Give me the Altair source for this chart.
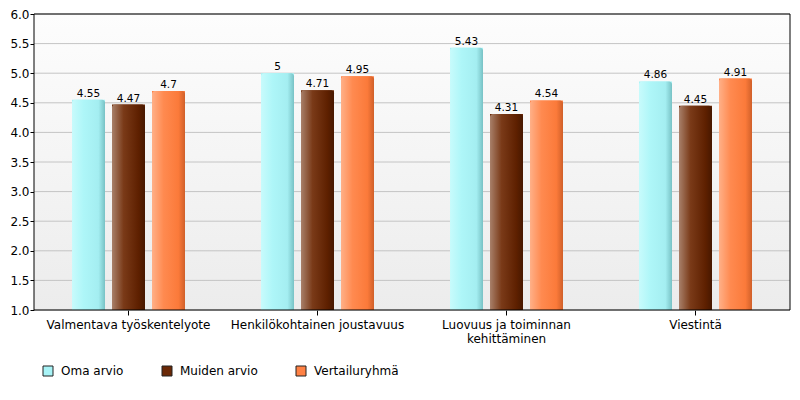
import altair as alt
import pandas as pd

categories = [
    "Valmentava työskentelyote",
    "Henkilökohtainen joustavuus",
    "Luovuus ja toiminnan kehittäminen",
    "Viestintä",
]
series = ["Oma arvio", "Muiden arvio", "Vertailuryhmä"]
oma_arvio = [4.55, 5.0, 5.43, 4.86]
muiden_arvio = [4.47, 4.71, 4.31, 4.45]
vertailuryhma = [4.7, 4.95, 4.54, 4.91]
y_ticks = [1.0, 1.5, 2.0, 2.5, 3.0, 3.5, 4.0, 4.5, 5.0, 5.5, 6.0]

series_colors = ["#a8f3f6", "#6a2806", "#ff8144"]
gradient_stops = [
    [("#c8fbfc", 0.0), ("#aef6f8", 0.35), ("#a4eef1", 0.8), ("#78c2c5", 1.0)],
    [("#a8806a", 0.0), ("#7a3a18", 0.35), ("#5e2000", 0.8), ("#471800", 1.0)],
    [("#ffb088", 0.0), ("#ff8a50", 0.35), ("#fb7a3a", 0.8), ("#d0602a", 1.0)],
]

values_by_series = [oma_arvio, muiden_arvio, vertailuryhma]
rows = []
for s, vals in zip(series, values_by_series):
    for c, v in zip(categories, vals):
        rows.append({"category": c, "series": s, "value": v, "label": f"{v:g}"})
df = pd.DataFrame(rows)

FONT = "DejaVu Sans"
W, H = 756, 296

x_enc = alt.X(
    "category:N",
    sort=categories,
    scale=alt.Scale(paddingInner=0, paddingOuter=0),
    axis=alt.Axis(
        title=None,
        labelAngle=0,
        labelFontSize=12,
        labelFont=FONT,
        labelColor="black",
        labelLimit=0,
        labelPadding=4,
        tickSize=5,
        tickColor="black",
        domain=False,
        labelExpr="datum.value == 'Luovuus ja toiminnan kehittäminen' ? ['Luovuus ja toiminnan', 'kehittäminen'] : datum.label",
    ),
)
xoff_enc = alt.XOffset(
    "series:N",
    sort=series,
    scale=alt.Scale(paddingInner=0.175, paddingOuter=0.95),
)
y_scale = alt.Scale(domain=[1, 6], nice=False, zero=False)
y_axis = alt.Axis(
    title=None,
    values=y_ticks,
    format=".1f",
    labelFontSize=12,
    labelFont=FONT,
    labelColor="black",
    labelPadding=1,
    tickSize=4,
    tickColor="black",
    domain=False,
    grid=False,
)
y_enc = alt.Y("value:Q", scale=y_scale, axis=y_axis)

bg_grad = alt.Gradient(
    gradient="linear",
    x1=0, y1=0, x2=0, y2=1,
    stops=[
        alt.GradientStop(color="#fdfdfd", offset=0),
        alt.GradientStop(color="#ececec", offset=1),
    ],
)
frame_df = pd.DataFrame({"a": [0]})
bg_layer = (
    alt.Chart(frame_df)
    .mark_rect(fill=bg_grad)
    .encode(x=alt.value(0), x2=alt.value(W), y=alt.value(0), y2=alt.value(H))
)
border_layer = (
    alt.Chart(frame_df)
    .mark_rect(fillOpacity=0, stroke="black", strokeWidth=1)
    .encode(x=alt.value(0), x2=alt.value(W), y=alt.value(0), y2=alt.value(H))
)

grid_layer = (
    alt.Chart(pd.DataFrame({"value": y_ticks}))
    .mark_rule(color="#c4c4c4", strokeWidth=1)
    .encode(y=y_enc)
)

base = alt.Chart(df)

legend_layer = base.mark_bar().encode(
    x=x_enc,
    xOffset=xoff_enc,
    y=y_enc,
    y2=alt.datum(1),
    color=alt.Color(
        "series:N",
        sort=series,
        scale=alt.Scale(domain=series, range=series_colors),
        legend=alt.Legend(
            title=None,
            orient="none",
            legendX=8,
            legendY=351,
            direction="horizontal",
            symbolType="square",
            symbolSize=100,
            symbolStrokeColor="#222222",
            symbolStrokeWidth=1,
            labelFontSize=12,
            labelFont=FONT,
            labelColor="black",
            labelOffset=7,
            columnPadding=36,
        ),
    ),
)

grad_layers = []
for s, stops in zip(series, gradient_stops):
    grad = alt.Gradient(
        gradient="linear",
        x1=0, y1=0, x2=1, y2=0,
        stops=[alt.GradientStop(color=c, offset=o) for c, o in stops],
    )
    grad_layers.append(
        base.transform_filter(alt.datum.series == s)
        .mark_bar(fill=grad, cornerRadiusTopLeft=3, cornerRadiusTopRight=3)
        .encode(x=x_enc, xOffset=xoff_enc, y=y_enc, y2=alt.datum(1))
    )

text_layer = base.mark_text(
    baseline="bottom", dy=-1, fontSize=10.5, font=FONT, color="black"
).encode(x=x_enc, xOffset=xoff_enc, y=y_enc, text="label:N")

chart = (
    alt.layer(bg_layer, grid_layer, legend_layer, *grad_layers, text_layer, border_layer)
    .properties(
        width=W,
        height=H,
        autosize=alt.AutoSizeParams(type="none"),
        padding={"left": 26, "top": 6, "right": 2, "bottom": 80},
        background="white",
    )
    .configure_view(stroke=None)
)

chart.save("out.html", embed_options={"renderer": "svg", "actions": False})
